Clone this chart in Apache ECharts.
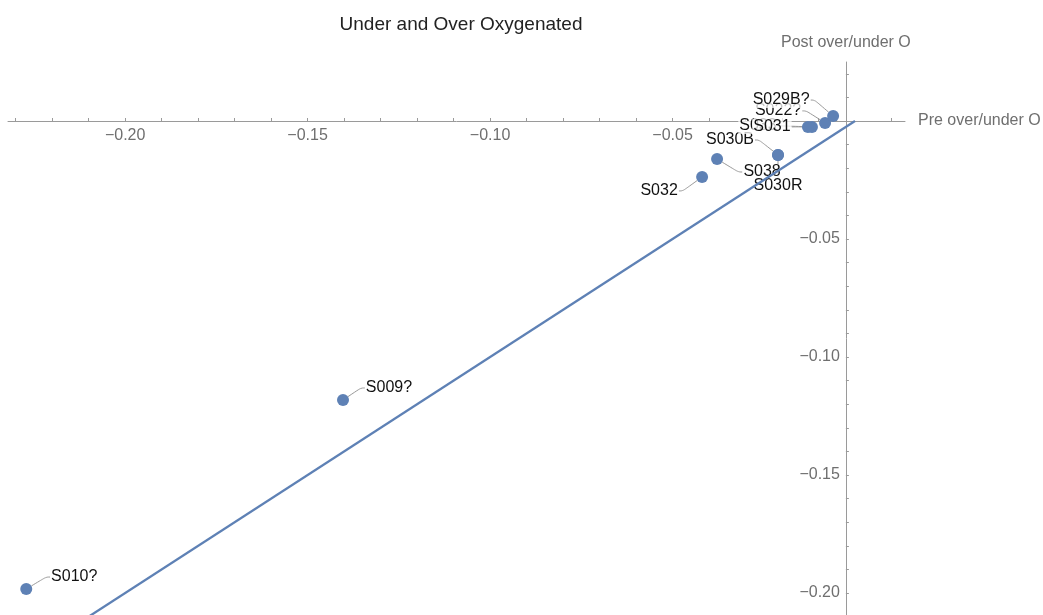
<!DOCTYPE html>
<html>
<head>
<meta charset="utf-8">
<script src="https://cdn.jsdelivr.net/npm/echarts@6/dist/echarts.min.js"></script>
<style>
  html, body { margin: 0; padding: 0; background: #fff; }
  #chart { width: 1043px; height: 615px; }
</style>
</head>
<body>
<div id="chart"></div>
<script>
// Sample names with pre / post over-under oxygenation values
const sampleNames = ['S010?', 'S009?', 'S032', 'S038', 'S030B', 'S030R', 'S033', 'S031', 'S022?', 'S029B?'];
const preValues   = [-0.2271, -0.1403, -0.0419, -0.0378, -0.0211, -0.0211, -0.0118, -0.0129, -0.0082, -0.0060];
const postValues  = [-0.1983, -0.1182, -0.0237, -0.0161, -0.0144, -0.0144, -0.0025, -0.0025, -0.0008, 0.0021];

// Reference line y = x
const refLineX = [-0.24, 0];
const refLineY = [-0.24, 0];

// Tick marks and labelled ticks
const xTicks = [-0.23, -0.22, -0.21, -0.20, -0.19, -0.18, -0.17, -0.16, -0.15, -0.14, -0.13, -0.12, -0.11, -0.10,
                -0.09, -0.08, -0.07, -0.06, -0.05, -0.04, -0.03, -0.02, -0.01, 0.01];
const xLabels = [-0.20, -0.15, -0.10, -0.05];
const yTicks = [0.02, 0.01, -0.01, -0.02, -0.03, -0.04, -0.05, -0.06, -0.07, -0.08, -0.09, -0.10,
                -0.11, -0.12, -0.13, -0.14, -0.15, -0.16, -0.17, -0.18, -0.19, -0.20];
const yLabels = [-0.05, -0.10, -0.15, -0.20];

// Where each point's callout sits, relative to the point
const calloutOffset = {
  'S010?': [48, -12], 'S009?': [46, -12], 'S032': [-43, 14], 'S038': [45, 13],
  'S030B': [-48, -15], 'S030R': [0, 31], 'S033': [-54, -1], 'S031': [-36, 0],
  'S022?': [-47, -12], 'S029B?': [-52, -16]
};

const fmt = v => (v < 0 ? '\u2212' : '') + Math.abs(v).toFixed(2);
const blue = '#5e81b5';
const axisGray = '#9a9a9a';
const labelGray = '#6f6f6f';
const font = 'Liberation Sans, Arial, sans-serif';

const points = sampleNames.map((n, i) => ({ name: n, value: [preValues[i], postValues[i]] }));

// Axes cross at (-0.0025, 0): both are placed with offsets from the grid edges
const X_MIN = -0.2321, X_MAX = 0.0137, Y_MIN = -0.2093, Y_MAX = 0.025;
const G_LEFT = 8, G_RIGHT = 138, G_TOP = 62, G_BOTTOM = 0;
const W = 1043, H = 615;
const plotW = W - G_LEFT - G_RIGHT, plotH = H - G_TOP - G_BOTTOM;
const yAxisAt = -0.0025;
const xOffset = -(0 - Y_MIN) / (Y_MAX - Y_MIN) * plotH;          // move x axis up to y = 0
const yOffset = -(X_MAX - yAxisAt) / (X_MAX - X_MIN) * plotW;    // move y axis left from the right edge

const chart = echarts.init(document.getElementById('chart'));
chart.setOption({
  animation: false,
  backgroundColor: '#fff',
  title: {
    text: 'Under and Over Oxygenated',
    left: 456, top: 10, textAlign: 'center',
    textStyle: { fontFamily: font, fontSize: 19, fontWeight: 'normal', color: '#222' }
  },
  grid: { left: G_LEFT, right: G_RIGHT, top: G_TOP, bottom: G_BOTTOM, outerBoundsMode: 'none' },
  xAxis: {
    type: 'value', min: X_MIN, max: X_MAX,
    position: 'bottom', offset: xOffset,
    name: 'Pre over/under O', nameLocation: 'end', nameGap: 13,
    nameTextStyle: { fontFamily: font, fontSize: 16, color: labelGray, verticalAlign: 'middle' },
    axisLine: { show: true, onZero: false, lineStyle: { color: axisGray, width: 1 } },
    axisTick: { show: true, inside: true, length: 3, customValues: xTicks, lineStyle: { color: axisGray } },
    axisLabel: { customValues: xLabels, formatter: fmt, margin: 7,
                 fontFamily: font, fontSize: 16, color: labelGray },
    splitLine: { show: false }
  },
  yAxis: {
    type: 'value', min: Y_MIN, max: Y_MAX,
    position: 'right', offset: yOffset,
    name: 'Post over/under O', nameLocation: 'end', nameGap: 11,
    nameTextStyle: { fontFamily: font, fontSize: 16, color: labelGray },
    axisLine: { show: true, onZero: false, lineStyle: { color: axisGray, width: 1 } },
    axisTick: { show: true, inside: false, length: 3, customValues: yTicks, lineStyle: { color: axisGray } },
    axisLabel: { customValues: yLabels, formatter: fmt, inside: true, margin: 6,
                 fontFamily: font, fontSize: 16, color: labelGray },
    splitLine: { show: false }
  },
  series: [
    {
      type: 'scatter',
      data: points,
      symbolSize: 12,
      itemStyle: { color: blue, opacity: 1 },
      z: 3,
      label: {
        show: true, position: 'inside', formatter: p => p.name,
        fontFamily: font, fontSize: 16, color: '#111',
        backgroundColor: 'rgba(255,255,255,0.75)', padding: [0, 1]
      },
      labelLayout: p => {
        const o = calloutOffset[sampleNames[p.dataIndex]];
        return { dx: o[0], dy: o[1] };
      },
      labelLine: { show: true, smooth: 0.4, length2: 4, lineStyle: { color: '#999', width: 1 } }
    },
    {
      // the y = x line is drawn on top of the callout labels
      type: 'line',
      data: refLineX.map((x, i) => [x, refLineY[i]]),
      showSymbol: false, symbol: 'none',
      lineStyle: { color: blue, width: 2.3 },
      z: 6, zlevel: 1, silent: true
    }
  ]
});
</script>
</body>
</html>
